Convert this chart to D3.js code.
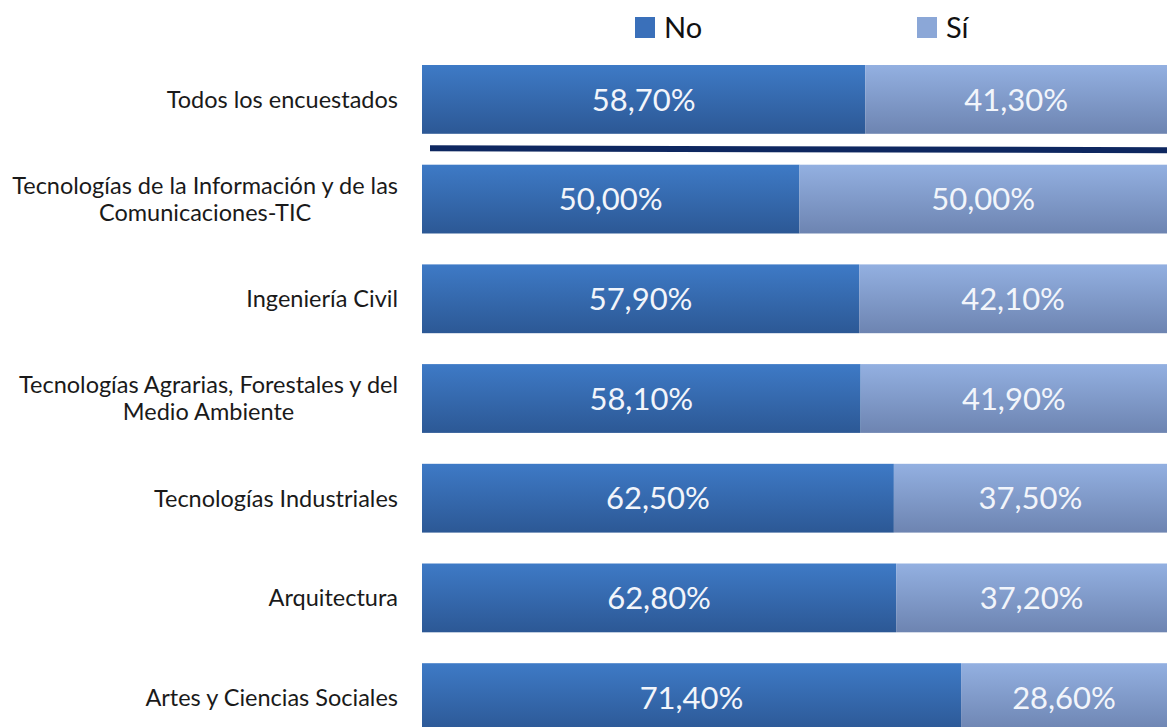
<!DOCTYPE html>
<html>
<head>
<meta charset="utf-8">
<script src="https://cdn.jsdelivr.net/npm/d3@7"></script>
<style>
  html, body { margin: 0; padding: 0; background: #ffffff; }
  svg { display: block; }
</style>
</head>
<body>
<svg id="chart" width="1167" height="727"></svg>
<script>
// ---- data ----
const categories = [
  ["Todos los encuestados"],
  ["Tecnologías de la Información y de las", "Comunicaciones-TIC"],
  ["Ingeniería Civil"],
  ["Tecnologías Agrarias, Forestales y del", "Medio Ambiente"],
  ["Tecnologías Industriales"],
  ["Arquitectura"],
  ["Artes y Ciencias Sociales"]
];
const seriesNames = ["No", "Sí"];
const noValues = [58.7, 50.0, 57.9, 58.1, 62.5, 62.8, 71.4];
const siValues = [41.3, 50.0, 42.1, 41.9, 37.5, 37.2, 28.6];

// ---- layout ----
const W = 1167, H = 727;
const svg = d3.select("#chart");
const font = "Lato, 'Open Sans', sans-serif";

const x = d3.scaleLinear().domain([0, 100]).range([422, 1177]);
const y = d3.scaleBand()
  .domain(d3.range(categories.length))
  .range([65, 732])
  .paddingInner(0.31)
  .paddingOuter(0);

const grads = [
  { id: "gNo", top: "#3E7AC6", bottom: "#2C5895" },
  { id: "gSi", top: "#93B0E1", bottom: "#6D84B1" }
];
const defs = svg.append("defs");
grads.forEach(g => {
  const lg = defs.append("linearGradient").attr("id", g.id)
    .attr("x1", 0).attr("y1", 0).attr("x2", 0).attr("y2", 1);
  lg.append("stop").attr("offset", "0%").attr("stop-color", g.top);
  lg.append("stop").attr("offset", "100%").attr("stop-color", g.bottom);
});

// stacked data
const rows = categories.map((c, i) => ({ i, no: noValues[i], si: siValues[i] }));
const stack = d3.stack().keys(["no", "si"]);
const stacked = stack(rows);

const layers = svg.append("g").selectAll("g")
  .data(stacked).join("g")
  .attr("fill", (d, k) => `url(#${grads[k].id})`);

layers.selectAll("rect")
  .data(d => d)
  .join("rect")
  .attr("x", d => x(d[0]))
  .attr("y", d => y(d.data.i))
  .attr("width", d => x(d[1]) - x(d[0]))
  .attr("height", y.bandwidth());

// value labels
const fmt = v => v.toFixed(2).replace(".", ",") + "%";
stacked.forEach((layer, k) => {
  svg.append("g").selectAll("text")
    .data(layer).join("text")
    .attr("x", d => (x(d[0]) + Math.min(x(d[1]), W)) / 2)
    .attr("y", d => y(d.data.i) + y.bandwidth() / 2)
    .attr("dy", "0.36em")
    .attr("text-anchor", "middle")
    .attr("font-family", font)
    .attr("font-size", 31)
    .attr("fill", "#F2F5FB")
    .text(d => fmt(d[1] - d[0]));
});

// separator line between first row and the rest
const sepY = (y(0) + y.bandwidth() + y(1)) / 2;
svg.append("line")
  .attr("x1", x(0) + 8).attr("x2", W)
  .attr("y1", sepY - 1).attr("y2", sepY + 1)
  .attr("stroke", "#0E2760")
  .attr("stroke-width", 6);

// category labels
const labelRight = 398;
const lineH = 27;
categories.forEach((lines, i) => {
  const cy = y(i) + y.bandwidth() / 2;
  const g = svg.append("g");
  const texts = lines.map((t, j) => g.append("text")
    .attr("font-family", font)
    .attr("font-size", 23.5)
    .attr("fill", "#1a1a1a")
    .attr("text-anchor", "middle")
    .attr("y", cy + (j - (lines.length - 1) / 2) * lineH)
    .attr("dy", "0.36em")
    .text(t));
  const maxW = d3.max(texts, t => t.node().getComputedTextLength());
  texts.forEach(t => t.attr("x", labelRight - maxW / 2));
});

// legend
const legendX = [635, 917];
const legendColors = ["#3A70BA", "#8BA7D7"];
const leg = svg.append("g");
seriesNames.forEach((name, k) => {
  leg.append("rect")
    .attr("x", legendX[k]).attr("y", 17)
    .attr("width", 20).attr("height", 21)
    .attr("fill", legendColors[k]);
  leg.append("text")
    .attr("x", legendX[k] + 29).attr("y", 27.5)
    .attr("dy", "0.36em")
    .attr("font-family", font)
    .attr("font-size", 29)
    .attr("fill", "#111")
    .text(name);
});
</script>
</body>
</html>
